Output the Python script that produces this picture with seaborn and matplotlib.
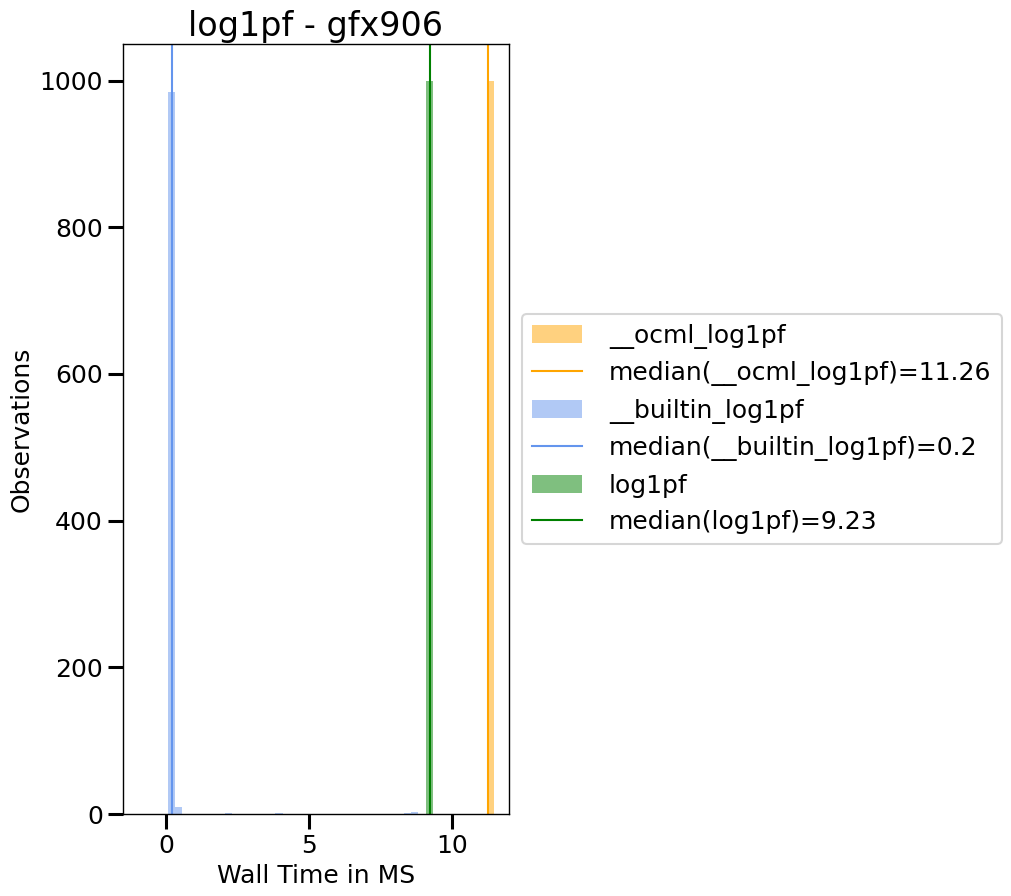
import numpy as np
import pandas as pd
import matplotlib
matplotlib.use("Agg")
import matplotlib.pyplot as plt
import seaborn as sns

# histogram counts (bin left edge, count), bin width 0.25 ms
binwidth = 0.25

ocml_edges = [11.22]
ocml_counts = [1000]
ocml_median = 11.26

builtin_edges = [0.08, 0.33, 2.08, 3.83, 8.33, 8.58]
builtin_counts = [984, 9, 1, 1, 2, 3]
builtin_median = 0.2

plain_edges = [9.10]
plain_counts = [1000]
plain_median = 9.23

series = [
    ("__ocml_log1pf", ocml_edges, ocml_counts, ocml_median, "orange"),
    ("__builtin_log1pf", builtin_edges, builtin_counts, builtin_median, "cornflowerblue"),
    ("log1pf", plain_edges, plain_counts, plain_median, "green"),
]

sns.set_context("talk")
plt.rcParams["axes.linewidth"] = 1.0
plt.rcParams["xtick.labelsize"] = 18
plt.rcParams["ytick.labelsize"] = 18
plt.rcParams["xtick.major.size"] = 11
plt.rcParams["ytick.major.size"] = 11
plt.rcParams["xtick.major.width"] = 2.2
plt.rcParams["ytick.major.width"] = 2.2

fig = plt.figure(figsize=(10.12, 8.96), dpi=100)
ax = fig.add_axes([0.1215, 0.0915, 0.3815, 0.8595])

handles = []
labels = []
for name, edges, counts, med, color in series:
    df = pd.DataFrame({"x": np.array(edges) + binwidth / 2, "n": counts})
    sns.histplot(data=df, x="x", weights="n", binwidth=binwidth,
                 binrange=(min(edges), max(edges) + binwidth),
                 color=color, alpha=0.5, linewidth=0, ax=ax)
    handles.append(ax.containers[-1])
    labels.append(name)
    line = ax.axvline(med, color=color, linewidth=1.5)
    handles.append(line)
    labels.append("median(" + name + ")=" + str(med))

ax.set_xlim(-1.5, 12)
ax.set_ylim(0, 1050)
ax.set_xlabel("Wall Time in MS")
ax.set_ylabel("Observations")
ax.set_title("log1pf - gfx906", fontsize=24)
ax.legend(handles, labels, loc="center left", bbox_to_anchor=(1, 0.5),
          fontsize=18, handletextpad=1.1)

fig.savefig("out.png", dpi=100)
